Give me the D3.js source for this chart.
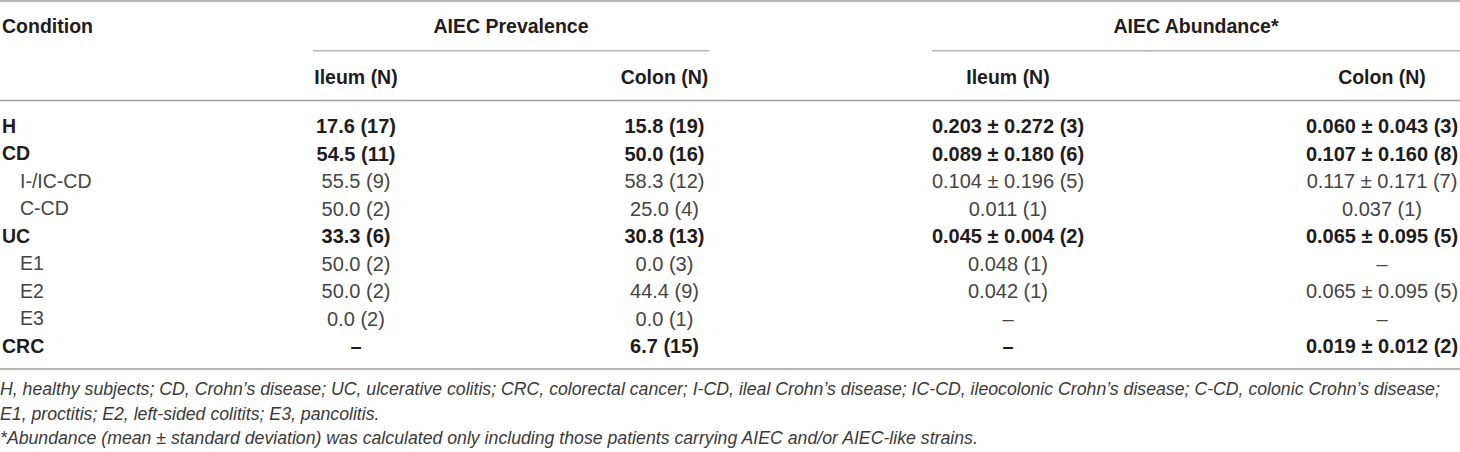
<!DOCTYPE html>
<html lang="en">
<head>
  <meta charset="UTF-8">
  <title>AIEC prevalence and abundance</title>
  <script src="https://d3js.org/d3.v7.min.js"></script>
  <style>
    body { margin: 0; background: #fff; }
    svg { display: block; }
    text { font-family: "Liberation Sans", Arial, Helvetica, sans-serif; }
    .rule { stroke: #9c9c9c; stroke-width: 1.6px; }
    .group-rule { stroke: #b4b4b4; stroke-width: 1.4px; }
    .bold { font-weight: bold; fill: #1f1c1d; }
    .plain { fill: #454545; }
    .note { font-style: italic; fill: #3a3a3a; }
  </style>
</head>
<body>
<svg width="1460" height="452"></svg>
<script>
  // Datos de la tabla
  const conditions = ["H", "CD", "I-/IC-CD", "C-CD", "UC", "E1", "E2", "E3", "CRC"];
  const parentOf = [null, null, "CD", "CD", null, "UC", "UC", "UC", null];

  const prevIleumPct = [17.6, 54.5, 55.5, 50.0, 33.3, 50.0, 50.0, 0.0, null];
  const prevIleumN = [17, 11, 9, 2, 6, 2, 2, 2, null];
  const prevColonPct = [15.8, 50.0, 58.3, 25.0, 30.8, 0.0, 44.4, 0.0, 6.7];
  const prevColonN = [19, 16, 12, 4, 13, 3, 9, 1, 15];

  const abIleumMean = [0.203, 0.089, 0.104, 0.011, 0.045, 0.048, 0.042, null, null];
  const abIleumSd = [0.272, 0.180, 0.196, null, 0.004, null, null, null, null];
  const abIleumN = [3, 6, 5, 1, 2, 1, 1, null, null];
  const abColonMean = [0.060, 0.107, 0.117, 0.037, 0.065, null, 0.065, null, 0.019];
  const abColonSd = [0.043, 0.160, 0.171, null, 0.095, null, 0.095, null, 0.012];
  const abColonN = [3, 8, 7, 1, 5, null, 5, null, 2];

  const groupHeaders = ["AIEC Prevalence", "AIEC Abundance*"];
  const subHeaders = ["Ileum (N)", "Colon (N)", "Ileum (N)", "Colon (N)"];
  const footnotes = [
    "H, healthy subjects; CD, Crohn\u2019s disease; UC, ulcerative colitis; CRC, colorectal cancer; I-CD, ileal Crohn\u2019s disease; IC-CD, ileocolonic Crohn\u2019s disease; C-CD, colonic Crohn\u2019s disease;",
    "E1, proctitis; E2, left-sided colitits; E3, pancolitis.",
    "*Abundance (mean \u00b1 standard deviation) was calculated only including those patients carrying AIEC and/or AIEC-like strains."
  ];

  const W = 1460;
  const svg = d3.select("svg");

  // Formatos
  const f1 = d3.format(".1f"), f3 = d3.format(".3f");
  const prevCell = (p, n) => p == null ? "\u2013" : `${f1(p)} (${n})`;
  const abCell = (m, s, n) => m == null ? "\u2013"
          : (s == null ? `${f3(m)} (${n})` : `${f3(m)} \u00b1 ${f3(s)} (${n})`);

  const rows = conditions.map((c, i) => ({
    name: c,
    sub: parentOf[i] != null,
    cells: [
      prevCell(prevIleumPct[i], prevIleumN[i]),
      prevCell(prevColonPct[i], prevColonN[i]),
      abCell(abIleumMean[i], abIleumSd[i], abIleumN[i]),
      abCell(abColonMean[i], abColonSd[i], abColonN[i])
    ]
  }));

  // Escalas: filas y columnas
  const y = d3.scalePoint().domain(conditions).range([126, 346]);
  const colX = d3.scaleOrdinal().domain([0, 1, 2, 3]).range([356, 664.5, 1008, 1382]);
  const groupSpan = [[313, 709], [932, W]];

  // Reglas horizontales
  [1, 100.5, 369].forEach(yy => {
    svg.append("line").attr("class", "rule")
            .attr("x1", 0).attr("x2", W).attr("y1", yy).attr("y2", yy);
  });

  // Cabecera
  svg.append("text").attr("class", "bold")
          .attr("x", 2).attr("y", 26).attr("dy", "0.35em")
          .style("font-size", "19.5px")
          .text("Condition");

  groupHeaders.forEach((g, i) => {
    const [a, b] = groupSpan[i];
    svg.append("text").attr("class", "bold")
            .attr("x", (a + b) / 2).attr("y", 26).attr("dy", "0.35em")
            .attr("text-anchor", "middle")
            .style("font-size", "19.5px")
            .text(g);
    svg.append("line").attr("class", "group-rule")
            .attr("x1", a).attr("x2", b).attr("y1", 50.7).attr("y2", 50.7);
  });

  subHeaders.forEach((s, i) => {
    svg.append("text").attr("class", "bold")
            .attr("x", colX(i)).attr("y", 77).attr("dy", "0.35em")
            .attr("text-anchor", "middle")
            .style("font-size", "19.5px")
            .text(s);
  });

  // Cuerpo de la tabla
  const row = svg.selectAll(".row")
          .data(rows)
          .enter().append("g")
          .attr("class", d => "row " + (d.sub ? "plain" : "bold"))
          .attr("transform", d => `translate(0,${y(d.name)})`);

  row.append("text")
          .attr("x", d => d.sub ? 20 : 2)
          .attr("dy", "0.35em")
          .style("font-size", "19.5px")
          .text(d => d.name);

  row.selectAll(".cell")
          .data(d => d.cells)
          .enter().append("text")
          .attr("class", "cell")
          .attr("x", (d, i) => colX(i))
          .attr("dy", "0.35em")
          .attr("text-anchor", "middle")
          .style("font-size", "20px")
          .text(d => d);

  // Notas al pie
  svg.selectAll(".note")
          .data(footnotes)
          .enter().append("text")
          .attr("class", "note")
          .attr("x", 0)
          .attr("y", (d, i) => 389 + i * 24.5)
          .attr("dy", "0.35em")
          .style("font-size", "17.7px")
          .text(d => d);
</script>
</body>
</html>
